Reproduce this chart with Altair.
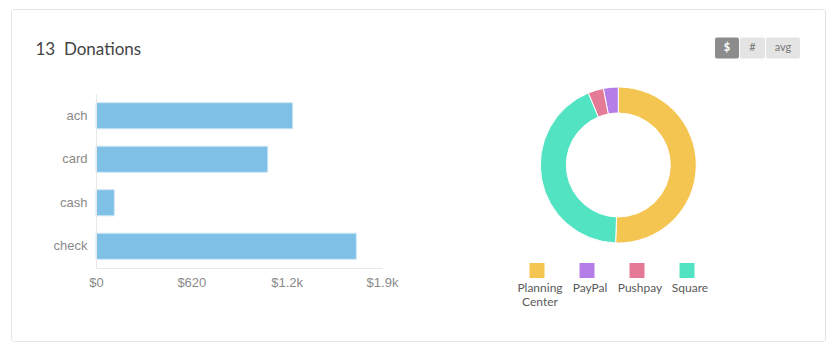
import altair as alt
import pandas as pd

# ---- data ----
methods = ["ach", "card", "cash", "check"]
method_amounts = [1279, 1117, 119, 1693]

sources = ["Planning Center", "PayPal", "Pushpay", "Square"]
source_amounts = [2129, 130, 135, 1818]
source_order = [0, 3, 2, 1]
source_colors = ["#f5c552", "#b57de8", "#e57a96", "#52e3c2"]

x_ticks = [0, 620, 1240, 1860]
title_text = ["13\u00a0\u00a0Donations"]
buttons = ["$", "#", "avg"]

# ---- geometry of the main (bar) view ----
W, H = 286, 174
PL, PT = 96, 94

bars_df = pd.DataFrame({"method": methods, "amount": method_amounts})
src_df = pd.DataFrame({"source": sources, "amount": source_amounts, "ord": source_order})
one = pd.DataFrame({"t": title_text})

LABEL_FONT = "Liberation Sans"

card = alt.Chart(one).mark_rect(
    filled=False, stroke="#e2e2e2", strokeWidth=1, cornerRadius=3
).encode(
    x=alt.value(11.5 - PL), x2=alt.value(825.5 - PL),
    y=alt.value(9.5 - PT), y2=alt.value(341.5 - PT),
)

bars = alt.Chart(bars_df).mark_bar(
    color="#7fc1e6", stroke="#cfe7f6", strokeWidth=1
).encode(
    y=alt.Y("method:N", sort=methods, title=None,
            scale=alt.Scale(paddingInner=0.4, paddingOuter=0.2),
            axis=alt.Axis(ticks=False, domainColor="#e8e8e8", labelPadding=9, zindex=1,
                          labelFont=LABEL_FONT, labelFontSize=13, labelColor="#8a8a8a")),
    x=alt.X("amount:Q", title=None,
            scale=alt.Scale(domain=[0, 1860], nice=False),
            axis=alt.Axis(values=x_ticks, grid=False, ticks=False, domainColor="#e8e8e8",
                          labelPadding=8, labelFlush=False, labelOverlap=False, zindex=1,
                          labelFont=LABEL_FONT, labelFontSize=13, labelColor="#8a8a8a",
                          labelExpr="datum.value == 0 ? '$0' : (datum.value < 1000 ? '$' + datum.value : '$' + format(datum.value / 1000, '.1f') + 'k')")),
)

color_scale = alt.Scale(domain=sources, range=source_colors)

donut = alt.Chart(src_df).mark_arc(
    outerRadius=78, innerRadius=52, stroke="white", strokeWidth=1
).encode(
    theta=alt.Theta("amount:Q", stack=True),
    order=alt.Order("ord:Q"),
    color=alt.Color("source:N", scale=color_scale, legend=None),
    x=alt.value(618.3 - PL), y=alt.value(165 - PT),
)

leg_x = alt.X("source:N", sort=sources, axis=None,
              scale=alt.Scale(type="point", domain=sources, padding=0,
                              range=[537 - PL, 687 - PL]))

leg_sq = alt.Chart(src_df).mark_square(size=225, opacity=1, shape="square").encode(
    x=leg_x,
    y=alt.value(270.5 - PT),
    color=alt.Color("source:N", scale=color_scale, legend=None),
)

leg_txt = alt.Chart(src_df).mark_text(
    font="Lato", fontSize=12, color="#5a5a5a", lineBreak=" ", lineHeight=14,
    baseline="alphabetic", align="center", dx=3
).encode(
    x=leg_x,
    y=alt.value(291.5 - PT),
    text="source:N",
)

title = alt.Chart(one).mark_text(
    font="Lato", fontSize=17, color="#444444", align="left", baseline="alphabetic"
).encode(
    x=alt.value(35.5 - PL), y=alt.value(54.5 - PT), text="t:N",
)

btn_df = [pd.DataFrame({"b": [b]}) for b in buttons]
btn_geo = [(715, 739), (740, 765), (766, 800)]
btn_fill = ["#8c8c8c", "#e4e4e4", "#e4e4e4"]
btn_text = ["white", "#777777", "#777777"]
btn_layers = []
for df, (x0, x1), f, tc in zip(btn_df, btn_geo, btn_fill, btn_text):
    btn_layers.append(
        alt.Chart(df).mark_rect(fill=f, cornerRadius=2).encode(
            x=alt.value(x0 - PL), x2=alt.value(x1 - PL),
            y=alt.value(37.5 - PT), y2=alt.value(58.5 - PT),
        )
    )
    btn_layers.append(
        alt.Chart(df).mark_text(font="Lato", fontSize=11, color=tc, fontWeight="bold" if tc == "white" else "normal",
                                align="center", baseline="middle").encode(
            x=alt.value((x0 + x1) / 2 - PL), y=alt.value(48 - PT), text="b:N",
        )
    )

chart = alt.layer(card, bars, donut, leg_sq, leg_txt, title, *btn_layers).resolve_scale(
    x="independent"
).properties(
    width=W, height=H,
    background="white",
    autosize=alt.AutoSizeParams(type="none"),
    padding={"left": PL, "top": PT, "right": 838 - PL - W, "bottom": 354 - PT - H},
).configure_view(stroke="transparent", strokeWidth=0)

chart.save("out.html", embed_options={"renderer": "svg", "actions": False})
